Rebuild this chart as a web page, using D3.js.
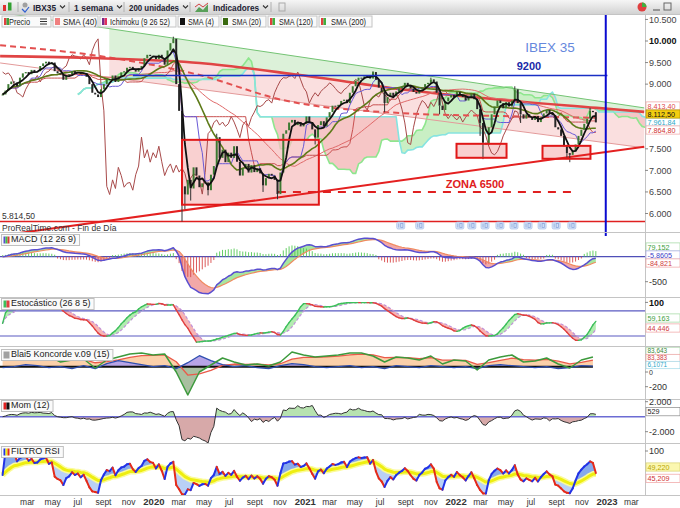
<!DOCTYPE html>
<html><head><meta charset="utf-8">
<script src="https://cdn.jsdelivr.net/npm/d3@7"></script>
<style>body{margin:0;background:#fff}svg{display:block;font-family:"Liberation Sans",Arial,sans-serif}</style>
</head><body><svg id="c" width="680" height="508"></svg>
<script>
// ---------------- DATA ----------------
const firstWeek = "2018-12-31";
const closes = [
 8760,8850,9000,9060,9040,8950,9150,9250,9280,9230,
 9330,9280,9300,9420,9480,9520,9460,9500,9300,9250,
 9220,9100,9200,9230,9300,9260,9280,9230,9260,9170,
 9000,8800,8760,8700,8880,9000,9120,9100,9200,9050,
 9180,9270,9300,9380,9400,9330,9290,9370,9420,9600,
 9680,9650,9640,9580,9680,9600,9450,9780,9950,10050,
 9000,8380,6630,6440,6780,6580,7070,6880,6610,6700,
 6720,6540,6900,7100,7770,7290,7480,7190,7410,7290,
 7560,7200,6880,7050,7150,6950,7120,6960,7050,6930,
 6650,6820,6920,6880,6780,6450,6950,7850,7930,8110,
 8170,8050,8120,8020,8080,8250,8120,7950,7760,8050,
 8140,8020,8230,8350,8500,8480,8520,8610,8640,8560,
 8800,8950,9080,9150,9140,9180,9200,9130,9280,9100,
 8920,8820,8560,8700,8800,8720,8830,8900,8950,9030,
 8980,8900,8820,8780,8870,8920,9000,9030,9110,9060,
 8800,8500,8400,8600,8690,8750,8700,8820,8750,8700,
 8620,8700,8780,8650,8420,8100,7640,7600,8000,8300,
 8480,8620,8560,8440,8580,8480,8620,8880,8560,8300,
 8200,8300,8230,8170,8260,8120,8230,8320,8400,8330,
 8280,8000,7950,7800,7560,7400,7360,7440,7600,7800,
 7940,8080,8200,8380,8350,8112.5];
const wickLows = [[62,5814.5],[63,6100],[65,6300],[71,6420],[90,6500],[95,6330],[108,7600],[132,8350],[151,8300],[165,7800],[166,7260],[179,8100],[195,7300],[196,7190]];
const wickHighs = [[59,10100],[74,7850],[128,9300],[148,9150],[177,8950],[203,8450]];

const channelTop = [["2018-12-25",10662],["2023-04-01",8449]];
const channelBottom = [["2018-12-25",9491],["2023-04-01",7523]];
const channelFillStart = "2019-09-15";
const supportLine = [["2018-12-25",5486],["2023-04-01",7546]];
const sma200 = [["2018-12-25",9650],["2019-08-23",9600],["2020-04-21",9490],["2020-12-19",9210],["2021-08-30",8870],["2022-04-16",8640],["2022-12-07",8450],["2023-04-01",8357]];
const sma120 = [["2018-12-25",9900],["2019-08-23",9650],["2020-04-21",9210],["2020-11-08",8630],["2021-08-18",8330],["2022-04-16",8260],["2022-12-07",8220]];
const lowLevel = 5814.5;
const level9200 = ["2019-11-11","2023-01-02",9200];
const zona = ["2020-10-27","2022-10-15",6500];
const boxes = [["2020-03-09","2021-02-03",7708,6204],["2022-01-02","2022-05-03",7616,7292],["2022-07-29","2022-11-22",7569,7269]];
const vLine = "2022-12-29";
const dividendX = ["2021-08-20","2021-10-05","2022-01-10","2022-02-08","2022-03-12","2022-04-17","2022-05-21","2022-06-24","2022-07-28","2022-08-31","2022-10-08"];

// Koncorde (every 4 weeks)
const kGreen = [67,97,107,87,107,47,67,77,-13,67,97,127,137,117,127,-53,-283,-53,17,87,47,17,27,7,47,147,117,97,107,117,137,137,107,47,97,87,67,107,27,67,57,-33,67,97,117,47,57,87,27,-13,67,97];
const kBlue = [-10,0,20,10,-10,0,-20,10,-20,30,60,40,20,0,10,-20,40,110,60,20,0,10,-10,-20,10,30,20,0,-10,0,10,-10,0,-20,10,0,-10,10,0,-10,0,-20,10,20,10,0,-10,0,-20,-10,10,6];

const priceTicks = [10500,10000,9500,9000,7500,7000,6500,6000];
const monthNames = ["ene","feb","mar","abr","may","jun","jul","ago","sept","oct","nov","dic"];

// ---------------- SETUP ----------------
const svg = d3.select("#c");
const parse = d3.timeParse("%Y-%m-%d");
const x = d3.scaleTime().domain([parse("2019-01-01"), parse("2023-01-01")]).range([3, 607]);
const wd = i => d3.timeDay.offset(parse(firstWeek), 7*i);
const xi = i => x(wd(i));
const PR = 645;
const es = d3.formatLocale({decimal:",",thousands:".",grouping:[3],currency:["","€"]});
const fmt = es.format(",d");

const P = {price:[15,232], macd:[233,297], stoch:[298,346], konc:[347,399], mom:[400,443], rsi:[444,495]};
const yP = d3.scaleLinear().domain([6000,10000]).range([213.5,41]);
const yM = d3.scaleLinear().domain([0,-500]).range([256.7,281.7]);
const yS = d3.scaleLinear().domain([0,100]).range([344.4,302.4]);
const yK = d3.scaleLinear().domain([0,-200]).range([366.7,386.7]);
const yMo = d3.scaleLinear().domain([0,2000]).range([416.7,401.7]);
const yR = d3.scaleLinear().domain([0,100]).range([499,451]);

const defs = svg.append("defs");
Object.entries(P).forEach(([k,[t,b]])=>{
  defs.append("clipPath").attr("id","cl-"+k).append("rect").attr("x",0).attr("y",t).attr("width",PR).attr("height",b-t);
});
const chX = x(parse(channelFillStart));
defs.append("clipPath").attr("id","cl-chan").append("rect").attr("x",chX).attr("y",15).attr("width",PR-chX).attr("height",217);
const tg = defs.append("linearGradient").attr("id","tbg").attr("x1",0).attr("x2",0).attr("y1",0).attr("y2",1);
tg.append("stop").attr("offset","0").attr("stop-color","#f6f6f6");
tg.append("stop").attr("offset","1").attr("stop-color","#d2d2d2");

// ---------------- INDICATORS ----------------
const n = closes.length, idx = d3.range(n), X = idx.map(xi);
const sma = (a,p)=>a.map((_,i)=>d3.mean(a.slice(Math.max(0,i-p+1),i+1)));
const ema = (a,p)=>{const k=2/(p+1);let e=a[0];return a.map(v=>e=e+k*(v-e));};
const mid = (a,p)=>a.map((_,i)=>{const s=a.slice(Math.max(0,i-p+1),i+1);return (d3.max(s)+d3.min(s))/2;});
const s4=sma(closes,4), s20=sma(closes,20), s40=sma(closes,40);
const e12=ema(closes,12), e26=ema(closes,26);
const macd=e12.map((v,i)=>v-e26[i]), sig=ema(macd,9), hist=macd.map((v,i)=>v-sig[i]);
const raw=closes.map((c,i)=>{const s=closes.slice(Math.max(0,i-25),i+1);const lo=d3.min(s),hi=d3.max(s);return hi>lo?(c-lo)/(hi-lo)*100:50;});
const stK=sma(raw,8), stD=sma(stK,5);
const mom=closes.map((c,i)=>c-closes[Math.max(0,i-12)]);
function rsiCalc(c,p){let ag=0,al=0;const out=[50];for(let i=1;i<c.length;i++){const d=c[i]-c[i-1],g=Math.max(d,0),l=Math.max(-d,0);if(i===1){ag=g;al=l;}else{ag=(ag*(p-1)+g)/p;al=(al*(p-1)+l)/p;}out.push(al===0?100:100-100/(1+ag/al));}return out;}
const rsi=rsiCalc(closes,6), rsiSig=ema(rsi,16);
const tenkan=mid(closes,9), kijun=mid(closes,26), b52=mid(closes,52);
const cloudIdx=d3.range(26,n+26);
const senA=cloudIdx.map(j=>(tenkan[j-26]+kijun[j-26])/2), senB=cloudIdx.map(j=>b52[j-26]);
const kX=kGreen.map((_,k)=>xi(4*k)), kRed=ema(kGreen,4);

// ---------------- HELPERS ----------------
function band(g,xs,a,b,ys,cPos,cNeg){
  let dp="",dn="";
  const add=(pts,pos)=>{const s="M"+pts.map(p=>p[0].toFixed(2)+","+p[1].toFixed(2)).join("L")+"Z";if(pos)dp+=s;else dn+=s;};
  for(let k=0;k<xs.length-1;k++){
    const a0=a[k],a1=a[k+1],b0=b[k],b1=b[k+1];
    if([a0,a1,b0,b1].some(v=>v==null||isNaN(v)))continue;
    const x0=xs[k],x1=xs[k+1],d0=a0-b0,d1=a1-b1;
    if(d0*d1<0){const t=d0/(d0-d1),xm=x0+t*(x1-x0),vm=a0+t*(a1-a0);
      add([[x0,ys(a0)],[xm,ys(vm)],[x0,ys(b0)]],d0>0);
      add([[xm,ys(vm)],[x1,ys(a1)],[x1,ys(b1)]],d1>0);
    } else add([[x0,ys(a0)],[x1,ys(a1)],[x1,ys(b1)],[x0,ys(b0)]],(d0+d1)>=0);
  }
  if(cPos&&dp)g.append("path").attr("d",dp).attr("fill",cPos);
  if(cNeg&&dn)g.append("path").attr("d",dn).attr("fill",cNeg);
}
function line(g,xs,vals,ys,col,w,dash,curve){
  const L=d3.line().x((d,i)=>xs[i]).y(d=>ys(d)).defined(d=>d!=null&&!isNaN(d));
  if(curve)L.curve(curve);
  const p=g.append("path").attr("d",L(vals)).attr("fill","none").attr("stroke",col).attr("stroke-width",w).attr("stroke-linejoin","round");
  if(dash)p.attr("stroke-dasharray",dash);
  return p;
}
function slopeLine(g,xs,vals,ys,up,down,w){
  for(let i=1;i<vals.length;i++){
    g.append("line").attr("x1",xs[i-1]).attr("x2",xs[i]).attr("y1",ys(vals[i-1])).attr("y2",ys(vals[i]))
     .attr("stroke",vals[i]>=vals[i-1]?up:down).attr("stroke-width",w).attr("stroke-linecap","round");
  }
}
const pd = a=>a.map(d=>parse(d[0]));
const lin = (pts,d)=>{const t=(d-parse(pts[0][0]))/(parse(pts[1][0])-parse(pts[0][0]));return pts[0][1]+t*(pts[1][1]-pts[0][1]);};

// ---------------- BACKGROUND ----------------
svg.append("rect").attr("width",680).attr("height",508).attr("fill","#fff");

// ---------------- PRICE PANEL ----------------
const gp = svg.append("g").attr("clip-path","url(#cl-price)");
{
  const gc = gp.append("g").attr("clip-path","url(#cl-chan)");
  const ds=pd(sma200);
  const ar=d3.area().x(d=>x(d)).curve(d3.curveMonotoneX);
  gc.append("path").attr("d",ar.y0(d=>yP(lin(channelTop,d))).y1((d,i)=>yP(sma200[i][1]))(ds)).attr("fill","#d6efd2").attr("opacity",0.85);
  gc.append("path").attr("d",ar.y0((d,i)=>yP(sma200[i][1])).y1(d=>yP(lin(channelBottom,d)))(ds)).attr("fill","#f9d9d9").attr("opacity",0.85);
}
{
  const cx=cloudIdx.map(xi);
  band(gp,cx,senA,senB,yP,"#c9efc4","#f6c6c6");
  line(gp,cx,senA,yP,"#8ee68e",1.6);
  line(gp,cx,senB,yP,"#86e4e0",1.6);
}
boxes.forEach(b=>{
  gp.append("rect").attr("x",x(parse(b[0]))).attr("y",yP(b[2])).attr("width",x(parse(b[1]))-x(parse(b[0]))).attr("height",yP(b[3])-yP(b[2])).attr("fill","#f7c0c0").attr("opacity",0.75);
});
const tl=(pts,col,w)=>gp.append("line").attr("x1",x(parse(pts[0][0]))).attr("y1",yP(pts[0][1])).attr("x2",x(parse(pts[1][0]))).attr("y2",yP(pts[1][1])).attr("stroke",col).attr("stroke-width",w);
tl(channelTop,"#74c474",1);
tl(channelBottom,"#e39a9a",1);
line(gp,d3.range(n-26).map(xi),d3.range(n-26).map(j=>closes[j+26]),yP,"#a84a4a",1);
line(gp,pd(sma120).map(x),sma120.map(d=>d[1]),yP,"#e35050",2,"6,4",d3.curveMonotoneX);
line(gp,pd(sma200).map(x),sma200.map(d=>d[1]),yP,"#e04444",2.6,null,d3.curveMonotoneX);
line(gp,X,s40,yP,"#e06a6a",1);
line(gp,X,kijun,yP,"#c85050",1);
line(gp,X,tenkan,yP,"#6a5ad6",1);
line(gp,X,s20,yP,"#5d7a18",1.6);
gp.append("line").attr("x1",0).attr("x2",PR).attr("y1",yP(lowLevel)).attr("y2",yP(lowLevel)).attr("stroke","#e02020").attr("stroke-width",1.6);
tl(supportLine,"#e42020",2);
gp.append("line").attr("x1",x(parse(zona[0]))).attr("x2",x(parse(zona[1]))).attr("y1",yP(zona[2])).attr("y2",yP(zona[2])).attr("stroke","#e02020").attr("stroke-width",2).attr("stroke-dasharray","8,7");
const lowMap=new Map(wickLows), highMap=new Map(wickHighs);
closes.forEach((c,i)=>{
  const o=i?closes[i-1]:c, xx=X[i];
  const lo=lowMap.get(i), hi=highMap.get(i);
  if(lo!=null)gp.append("line").attr("x1",xx).attr("x2",xx).attr("y1",yP(Math.min(o,c))).attr("y2",yP(lo)).attr("stroke","#333").attr("stroke-width",1);
  if(hi!=null)gp.append("line").attr("x1",xx).attr("x2",xx).attr("y1",yP(Math.max(o,c))).attr("y2",yP(hi)).attr("stroke","#333").attr("stroke-width",1);
  const y1=yP(Math.max(o,c)), y2=yP(Math.min(o,c));
  gp.append("rect").attr("x",xx-1).attr("y",y1).attr("width",2).attr("height",Math.max(1,y2-y1)).attr("fill",c>=o?"#3d7a32":"#262626");
});
line(gp,X,s4,yP,"#111",1.8);
boxes.forEach(b=>{
  gp.append("rect").attr("x",x(parse(b[0]))).attr("y",yP(b[2])).attr("width",x(parse(b[1]))-x(parse(b[0]))).attr("height",yP(b[3])-yP(b[2])).attr("fill","none").attr("stroke","#e01818").attr("stroke-width",2);
});
gp.append("line").attr("x1",x(parse(level9200[0]))).attr("x2",x(parse(level9200[1]))).attr("y1",yP(level9200[2])).attr("y2",yP(level9200[2])).attr("stroke","#1a2fc4").attr("stroke-width",1.6);
svg.append("line").attr("x1",x(parse(vLine))).attr("x2",x(parse(vLine))).attr("y1",15).attr("y2",236).attr("stroke","#0a0ad0").attr("stroke-width",2);
dividendX.forEach(d=>{
  const xx=x(parse(d));
  gp.append("rect").attr("x",xx-4).attr("y",222).attr("width",8).attr("height",7).attr("rx",1.5).attr("fill","#d6e4f8").attr("stroke","#a8bfe8").attr("stroke-width",0.7);
  gp.append("line").attr("x1",xx-2).attr("x2",xx-2).attr("y1",223.5).attr("y2",227.5).attr("stroke","#8aa6dc").attr("stroke-width",0.8);
  gp.append("rect").attr("x",xx).attr("y",223.5).attr("width",2.2).attr("height",4).attr("fill","none").attr("stroke","#8aa6dc").attr("stroke-width",0.8);
});
svg.append("text").attr("x",550).attr("y",52).attr("text-anchor","middle").attr("font-size",13.5).attr("fill","#6688dd").text("IBEX 35");
svg.append("text").attr("x",529).attr("y",70).attr("text-anchor","middle").attr("font-size",11).attr("font-weight","bold").attr("fill","#1a2aa8").text("9200");
svg.append("text").attr("x",475).attr("y",188).attr("text-anchor","middle").attr("font-size",11).attr("font-weight","bold").attr("fill","#e02020").text("ZONA 6500");
svg.append("text").attr("x",2).attr("y",219).attr("font-size",8.5).attr("fill","#333").text("5.814,50");
svg.append("text").attr("x",2).attr("y",231).attr("font-size",8.5).attr("fill","#333").text("ProRealTime.com - Fin de Día");

// ---------------- MACD ----------------
const gm=svg.append("g").attr("clip-path","url(#cl-macd)");
band(gm,X,macd,sig,yM,"#a6e6a0","#f2a8a8");
gm.append("line").attr("x1",0).attr("x2",PR).attr("y1",yM(0)).attr("y2",yM(0)).attr("stroke","#4f4fb8").attr("stroke-width",1.2);
hist.forEach((h,i)=>gm.append("line").attr("x1",X[i]).attr("x2",X[i]).attr("y1",yM(0)).attr("y2",yM(h)-(h>=0?1.5:-1.5)).attr("stroke",h>=0?"#55c855":"#d84848").attr("stroke-width",0.9));
line(gm,X,sig,yM,"#f08a60",1.2);
line(gm,X,macd,yM,"#5a4fd0",1.5);

// ---------------- STOCHASTIC ----------------
const gs=svg.append("g").attr("clip-path","url(#cl-stoch)");
band(gs,X,stK,stD,yS,"#b2ecb0","#f6b4b4");
[80,20].forEach(v=>gs.append("line").attr("x1",0).attr("x2",PR).attr("y1",yS(v)).attr("y2",yS(v)).attr("stroke","#5a5ac2").attr("stroke-width",1.2));
line(gs,X,stD,yS,"#c090d8",1.2,"3,2");
slopeLine(gs,X,stK,yS,"#3cbf5a","#e04040",1.4);

// ---------------- KONCORDE ----------------
const gk=svg.append("g").attr("clip-path","url(#cl-konc)");
const zeros=kGreen.map(()=>0);
band(gk,kX,kRed,zeros,yK,"#fbd0aa",null);
band(gk,kX,kBlue,zeros,yK,"#b8a4e6",null);
band(gk,kX,kGreen,zeros,yK,null,"#a9bfa0");
gk.append("line").attr("x1",0).attr("x2",kX[kX.length-1]).attr("y1",yK(0)).attr("y2",yK(0)).attr("stroke","#111").attr("stroke-width",2);
line(gk,kX,kRed,yK,"#ea5a4a",1.3);
line(gk,kX,kBlue,yK,"#2f4fb0",1.3);
line(gk,kX,kGreen,yK,"#3c9a3c",1.5);

// ---------------- MOMENTUM ----------------
const gmo=svg.append("g").attr("clip-path","url(#cl-mom)");
band(gmo,X,mom,mom.map(()=>0),yMo,"#b7e2b0","#d7a9a9");
gmo.append("line").attr("x1",0).attr("x2",PR).attr("y1",yMo(0)).attr("y2",yMo(0)).attr("stroke","#6c6cd4").attr("stroke-width",1.5);
line(gmo,X,mom,yMo,"#333",1);

// ---------------- RSI ----------------
const gr=svg.append("g").attr("clip-path","url(#cl-rsi)");
band(gr,X,rsi,rsiSig,yR,"#86a9ec","#b9d0f6");
line(gr,X,rsiSig,yR,"#fbfb9a",6);
line(gr,X,rsiSig,yR,"#eeee10",3);
slopeLine(gr,X,rsi,yR,"#2233e6","#e42a1a",2);

// ---------------- FRAME ----------------
[14.5,232.5,297.5,346.5,399.5,443.5,495.5].forEach(y=>svg.append("line").attr("x1",0).attr("x2",680).attr("y1",y).attr("y2",y).attr("stroke","#c4c4c4").attr("stroke-width",1));
svg.append("line").attr("x1",PR+0.5).attr("x2",PR+0.5).attr("y1",15).attr("y2",495).attr("stroke","#c4c4c4");

// ---------------- RIGHT AXES ----------------
function axisLabel(y,t,opt={}){
  svg.append("line").attr("x1",PR).attr("x2",PR+3).attr("y1",y).attr("y2",y).attr("stroke","#888");
  svg.append("text").attr("x",649).attr("y",y+3.2).attr("font-size",opt.fs||9).attr("fill",opt.c||"#333").attr("font-weight",opt.b?"bold":"normal").text(t);
}
priceTicks.forEach(v=>axisLabel(yP(v),fmt(v),{b:v===10000,c:v===10000?"#111":"#444"}));
function valBox(y,t,col,bg,bd,fs=7.2){
  const h=fs+1;
  svg.append("rect").attr("x",646).attr("y",y-h/2).attr("width",34).attr("height",h).attr("fill",bg).attr("stroke",bd).attr("stroke-width",0.7);
  svg.append("text").attr("x",647.5).attr("y",y+fs*0.36).attr("font-size",fs).attr("fill",col).text(t);
}
valBox(106,"8.413,40","#e04848","#fff","#f0a0a0");
valBox(122,"7.961,84","#2aa8c8","#fff","#9fd9e8");
valBox(130,"7.864,80","#d03030","#fff","#f0a0a0");
valBox(114,"8.112,50","#111","#f3cd10","#b09000");
valBox(247,"79,152","#3aa03a","#fff","#9fd89f");
valBox(255,"-5,8605","#3a40c8","#fff","#a8a8e8");
valBox(263,"-84,821","#d04040","#fff","#f0a0a0");
axisLabel(yM(-500),"-500");
axisLabel(yS(100),"100",{b:true,c:"#111"});
valBox(318,"59,163","#3aa03a","#fff","#9fd89f");
valBox(328,"44,446","#d04040","#fff","#f0a0a0");
valBox(351,"83,643","#3a8a3a","#fff","#b0d8b0",6.4);
valBox(358,"83,383","#d04040","#fff","#f0a0a0",6.4);
valBox(365,"6,1071","#2aa8c8","#fff","#9fd9e8",6.4);
axisLabel(372,"0",{fs:7});
axisLabel(yK(-200),"-200");
axisLabel(yMo(2000),"2.000");
valBox(411.7,"529","#222","#fff","#888");
axisLabel(yMo(-2000),"-2.000");
axisLabel(yR(100),"100");
valBox(467,"49,220","#b8a400","#fbf7b0","#d8d070");
valBox(478.3,"45,209","#d03030","#fff","#f0a0a0");

// ---------------- PANEL LABELS ----------------
function panelLabel(y,t,cols){
  const g=svg.append("g");
  const tx=g.append("text").attr("x",11).attr("y",y+8).attr("font-size",9).attr("fill","#222").text(t);
  const w=tx.node().getComputedTextLength();
  g.insert("rect","text").attr("x",1.5).attr("y",y+0.5).attr("width",w+13).attr("height",11).attr("fill","#fafafa").attr("stroke","#c0c0c0");
  cols.forEach((c,k)=>g.append("rect").attr("x",3.5+k*(6/cols.length)).attr("y",y+2.5).attr("width",6/cols.length).attr("height",7).attr("fill",c));
}
panelLabel(234,"MACD (12 26 9)",["#5a4fd0","#44c244","#d23c3c"]);
panelLabel(298,"Estocástico (26 8 5)",["#3cbf5a","#e04040"]);
panelLabel(349,"Blai5 Koncorde v.09 (15)",["#a0a0a0"]);
panelLabel(400,"Mom (12)",["#e02020","#111"]);
panelLabel(446,"FILTRO RSI",["#2233e6","#eeee10","#e42a1a"]);

// ---------------- X AXIS ----------------
const months=d3.timeMonth.every(2).range(parse("2019-01-01"),parse("2023-04-02"));
months.forEach(m=>{
  const xx=x(m); if(xx<10||xx>PR)return;
  const isY=m.getMonth()===0;
  svg.append("text").attr("x",xx).attr("y",505).attr("text-anchor","middle").attr("font-size",isY?9.5:8.5)
    .attr("font-weight",isY?"bold":"normal").attr("fill","#333").text(isY?m.getFullYear():monthNames[m.getMonth()]);
});

// ---------------- TOOLBAR ----------------
const tb=svg.append("g");
tb.append("rect").attr("width",680).attr("height",14).attr("fill","url(#tbg)");
tb.append("rect").attr("x",3).attr("y",5).attr("width",3).attr("height",6).attr("fill","#e03030");
tb.append("rect").attr("x",8).attr("y",2.5).attr("width",3.5).attr("height",8).attr("fill","#30a030");
tb.append("circle").attr("cx",25).attr("cy",5).attr("r",2.5).attr("fill","#a0a0a0");
tb.append("path").attr("d","M22,9 L25,12 L29,7").attr("stroke","#3060d0").attr("fill","none").attr("stroke-width",1.2);
[18,69,124,190,271].forEach(xx=>tb.append("line").attr("x1",xx).attr("x2",xx).attr("y1",2).attr("y2",12).attr("stroke","#b0b0b0"));
const chev=xx=>tb.append("path").attr("d",`M${xx},5.5 L${xx+2.5},8 L${xx+5},5.5`).attr("stroke","#333").attr("fill","none").attr("stroke-width",1.1);
const tbt=(xx,t,len)=>tb.append("text").attr("x",xx).attr("y",10.5).attr("font-size",9).attr("font-weight","bold").attr("fill","#223").attr("textLength",len).attr("lengthAdjust","spacingAndGlyphs").text(t);
tbt(33,"IBX35",23); chev(60);
tbt(74,"1 semana",39); chev(117);
tbt(129,"200 unidades",50); chev(183);
tb.append("path").attr("d","M195,12 L199,7 L203,10 L208,4 L208,12 Z").attr("fill","#5aa05a");
tb.append("path").attr("d","M195,7 L199,4 L203,7 L208,3").attr("stroke","#d04040").attr("fill","none");
tbt(213,"Indicadores",46); chev(263);
tb.append("rect").attr("x",279).attr("y",3).attr("width",6).attr("height",8).attr("fill","none").attr("stroke","#aaa");
tb.append("circle").attr("cx",642).attr("cy",7).attr("r",4.5).attr("fill","#e04040");
tb.append("path").attr("d","M642,2.5 A4.5,4.5 0 0,1 646.5,7 L642,7 Z").attr("fill","#40b040");
tb.append("line").attr("x1",653).attr("x2",660).attr("y1",10).attr("y2",10).attr("stroke","#666").attr("stroke-width",1.2);
tb.append("rect").attr("x",664).attr("y",3).attr("width",7).attr("height",7).attr("fill","none").attr("stroke","#666");

// ---------------- LEGEND ----------------
const legendItems=[
 {t:"Precio",c:["#e04040","#40a040"],x:2,w:49,tx:9,tl:21,extra:true},
 {t:"SMA (40)",c:["#f08080"],x:53,w:45,tx:63,tl:34},
 {t:"Ichimoku (9 26 52)",c:["#7a2a8a","#e03060"],x:100,w:76,tx:110,tl:60},
 {t:"SMA (4)",c:["#111"],x:178,w:41,tx:188,tl:26},
 {t:"SMA (20)",c:["#3a6a10"],x:221,w:45,tx:232,tl:29},
 {t:"SMA (120)",c:["#e04040","#40b040"],x:268,w:49,tx:279,tl:34},
 {t:"SMA (200)",c:["#e04040","#40b040"],x:319,w:53,tx:331,tl:35}
];
const lg=svg.append("g");
legendItems.forEach(it=>{
  const g=lg.append("g");
  g.append("rect").attr("x",it.x).attr("y",16).attr("width",it.w).attr("height",11).attr("fill","#fafafa").attr("stroke","#c4c4c4");
  it.c.forEach((c,k)=>g.append("rect").attr("x",it.x+2+k*(5/it.c.length)).attr("y",18).attr("width",5/it.c.length).attr("height",7).attr("fill",c));
  g.append("text").attr("x",it.tx).attr("y",24.5).attr("font-size",9).attr("fill","#222").attr("textLength",it.tl).attr("lengthAdjust","spacingAndGlyphs").text(it.t);
  if(it.extra){const bx=it.x+38;[19,21.5,24].forEach(y=>g.append("line").attr("x1",bx).attr("x2",bx+7).attr("y1",y).attr("y2",y).attr("stroke","#333"));}
});
</script></body></html>
